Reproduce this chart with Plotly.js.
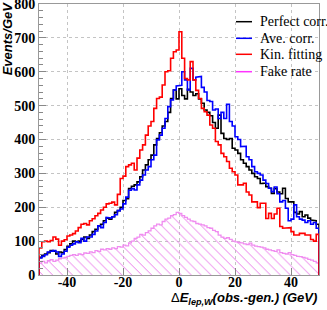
<!DOCTYPE html>
<html>
<head>
<meta charset="utf-8">
<script src="https://cdn.plot.ly/plotly-3.0.1.min.js"></script>
<style>html,body{margin:0;padding:0;background:#fff;}#chart{width:327px;height:310px;}</style>
</head>
<body>
<div id="chart"></div>
<script>
// Histogram binning: 100 bins of 1 GeV from -50 to 50
const binLow = -50;
const binWidth = 1;

const seriesNames = ["Perfect corr.", "Ave. corr.", "Kin. fitting", "Fake rate"];

// Perfect corr. (black)
const perfectCorr = [
  52, 58, 62, 66, 72, 70, 62, 68, 66, 75,
  85, 92, 100, 98, 100, 105, 112, 108, 118, 128,
  135, 145, 150, 160, 168, 165, 172, 185, 190, 200,
  220, 225, 255, 262, 266, 275, 290, 310, 325, 340,
  354, 384, 403, 420, 440, 453, 480, 521, 546, 520,
  550, 530, 520, 548, 540, 530, 535, 520, 507, 487,
  480, 470, 450, 433, 472, 418, 403, 400, 403, 374,
  369, 359, 340, 330, 320, 310, 300, 290, 285, 270,
  271, 261, 256, 241, 255, 245, 240, 256, 226, 216,
  216, 185, 180, 187, 172, 177, 168, 162, 160, 150
];

// Ave. corr. (blue)
const aveCorr = [
  50, 55, 60, 68, 70, 72, 68, 55, 62, 70,
  82, 88, 92, 98, 95, 108, 100, 112, 112, 120,
  130, 145, 140, 155, 170, 168, 172, 178, 190, 195,
  210, 230, 250, 255, 251, 266, 280, 295, 310, 320,
  340, 354, 399, 413, 433, 462, 497, 517, 546, 558,
  560, 600, 576, 546, 610, 576, 584, 586, 554, 540,
  515, 512, 487, 490, 462, 480, 462, 504, 453, 440,
  408, 400, 379, 380, 349, 340, 320, 305, 300, 295,
  280, 270, 256, 246, 260, 240, 216, 220, 197, 160,
  165, 207, 172, 165, 162, 155, 160, 150, 155, 138
];

// Kin. fitting (red)
const kinFitting = [
  80, 98, 100, 98, 102, 112, 106, 88, 100, 104,
  115, 118, 122, 130, 140, 150, 152, 148, 160, 166,
  175, 182, 192, 200, 210, 212, 215, 207, 238, 285,
  292, 320, 325, 330, 310, 345, 369, 384, 413, 440,
  453, 492, 521, 525, 561, 600, 603, 640, 659, 664,
  718, 640, 580, 576, 630, 576, 545, 521, 492, 482,
  472, 443, 433, 394, 384, 359, 349, 335, 315, 305,
  295, 266, 266, 271, 245, 236, 216, 216, 199, 212,
  212, 167, 182, 167, 180, 197, 143, 138, 140, 140,
  128, 118, 118, 123, 123, 118, 118, 105, 100, 120
];

// Fake rate (magenta, hatched)
const fakeRate = [
  35, 40, 36, 42, 45, 40, 44, 48, 50, 52,
  55, 58, 60, 58, 62, 60, 65, 64, 68, 66,
  72, 70, 76, 74, 78, 76, 80, 78, 84, 82,
  88, 86, 95, 100, 108, 112, 120, 118, 125, 130,
  138, 145, 150, 148, 158, 165, 168, 175, 178, 185,
  182, 175, 170, 165, 160, 158, 152, 150, 148, 145,
  140, 138, 132, 128, 118, 112, 108, 110, 105, 100,
  98, 96, 95, 92, 90, 94, 88, 85, 84, 82,
  80, 76, 74, 72, 70, 74, 66, 64, 62, 66,
  60, 58, 55, 54, 52, 50, 46, 44, 40, 36
];

const xTickVals = [-40, -20, 0, 20, 40];
const xTickText = ["-40", "-20", "0", "20", "40"];
const yTickVals = [0, 100, 200, 300, 400, 500, 600, 700, 800];
const yTickText = ["0", "100", "200", "300", "400", "500", "600", "700", "800"];

function stepOutline(vals) {
  const xs = [binLow], ys = [0];
  vals.forEach((v, i) => {
    xs.push(binLow + i * binWidth, binLow + (i + 1) * binWidth);
    ys.push(v, v);
  });
  xs.push(binLow + vals.length * binWidth);
  ys.push(0);
  return {x: xs, y: ys};
}
function binCenters(vals) { return vals.map((v, i) => binLow + (i + 0.5) * binWidth); }

const colors = ["#000000", "#0000ff", "#ff0000"];
const data = [];

// hatched fake-rate fill
data.push({
  type: "bar", x: binCenters(fakeRate), y: fakeRate, width: binWidth,
  marker: {color: "rgba(0,0,0,0)", line: {width: 0},
    pattern: {shape: "\\", fgcolor: "#e870e8", bgcolor: "rgba(0,0,0,0)", size: 7, solidity: 0.13}},
  hoverinfo: "skip", showlegend: false
});
const fo = stepOutline(fakeRate);
data.push({type: "scatter", mode: "lines", x: fo.x, y: fo.y, line: {color: "#f08cf0", width: 1.3}, showlegend: false, hoverinfo: "skip"});

[[perfectCorr, 0], [aveCorr, 1], [kinFitting, 2]].forEach(([vals, k]) => {
  const s = stepOutline(vals);
  data.push({type: "scatter", mode: "lines", x: s.x, y: s.y, name: seriesNames[k],
    line: {color: colors[k], width: 1.6}, showlegend: false, hoverinfo: "skip"});
});

// manual legend
const legRows = [0.9347, 0.8734, 0.8144, 0.7502];
const legColors = ["#000000", "#0000ff", "#ff0000", "#ff33ff"];
const shapes = [], annotations = [];
seriesNames.forEach((n, i) => {
  shapes.push({type: "line", xref: "paper", yref: "paper", x0: 0.7036, x1: 0.7607, y0: legRows[i], y1: legRows[i],
    line: {color: legColors[i], width: 1.5}});
  annotations.push({xref: "paper", yref: "paper", x: 0.782, y: legRows[i], xanchor: "left", yanchor: "middle",
    text: n, showarrow: false, font: {family: "Liberation Serif", size: 14, color: "#000"}});
});

annotations.push({xref: "paper", yref: "paper", x: -0.112, y: 0.872, xanchor: "center", yanchor: "middle",
  textangle: -90, showarrow: false, text: "<b><i>Events/GeV</i></b>",
  font: {family: "Liberation Sans", size: 13, color: "#000"}});
annotations.push({xref: "paper", yref: "paper", x: 1.0, y: -0.085, xanchor: "right", yanchor: "middle",
  showarrow: false,
  text: "Δ<b><i>E</i></b><sub><b><i>lep,W</i></b></sub><b><i>(obs.-gen.) (GeV)</i></b>",
  font: {family: "Liberation Sans", size: 13, color: "#000"}});

const tickFont = {family: "Times New Roman", size: 14, color: "#000", weight: 700};
const layout = {
  width: 327, height: 310,
  font: {family: "Times New Roman"},
  margin: {l: 39, r: 8, t: 4, b: 35, pad: 0},
  paper_bgcolor: "#fff", plot_bgcolor: "#fff",
  showlegend: false, bargap: 0, barmode: "overlay",
  xaxis: {range: [-50, 50], tickvals: xTickVals, ticktext: xTickText,
    ticks: "inside", ticklen: 7, tickcolor: "#888", ticklabelstandoff: -6,
    showline: true, mirror: true, linecolor: "#999", linewidth: 1,
    showgrid: true, gridcolor: "#c4c4c4", griddash: "dot", gridwidth: 1, zeroline: false,
    tickfont: tickFont},
  yaxis: {range: [0, 800], tickvals: yTickVals, ticktext: yTickText,
    ticks: "inside", ticklen: 7, tickcolor: "#888", ticklabeloverflow: "allow",
    minor: {dtick: 20, ticks: "inside", ticklen: 3.5, tickcolor: "#888", showgrid: false},
    showline: true, mirror: true, linecolor: "#999", linewidth: 1,
    showgrid: true, gridcolor: "#c4c4c4", griddash: "dot", gridwidth: 1, zeroline: false,
    tickfont: tickFont},
  shapes: shapes, annotations: annotations
};
Plotly.newPlot("chart", data, layout, {staticPlot: true, displayModeBar: false});
</script>
</body>
</html>
